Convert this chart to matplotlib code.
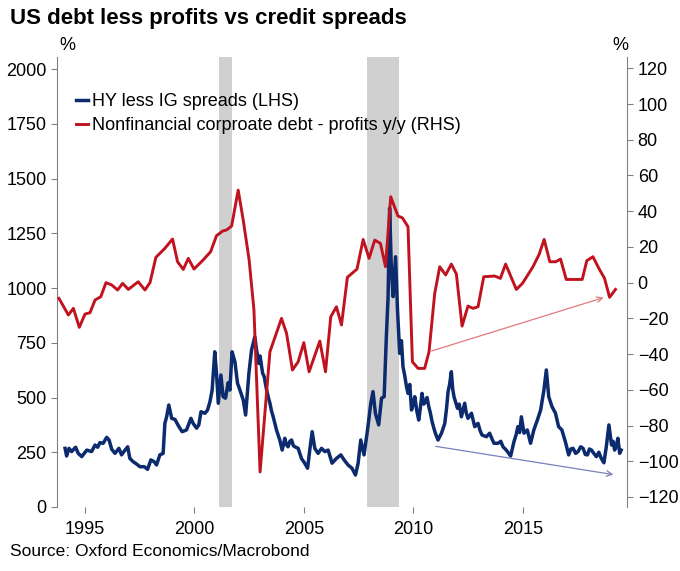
import matplotlib
matplotlib.use('Agg')
import matplotlib.pyplot as plt

plt.rcParams['font.family'] = ['Liberation Sans', 'DejaVu Sans']

# HY less IG spreads (LHS)
hy_years = [1994.09, 1994.16, 1994.27, 1994.39, 1994.57, 1994.69, 1994.85, 1995.08, 1995.30, 1995.46,
            1995.58, 1995.68, 1995.83, 1995.99, 1996.10, 1996.22, 1996.37, 1996.55, 1996.67, 1996.83,
            1996.95, 1997.05, 1997.20, 1997.36, 1997.51, 1997.71, 1997.86, 1998.01, 1998.16, 1998.27,
            1998.42, 1998.57, 1998.65, 1998.73, 1998.83, 1998.96, 1999.11, 1999.29, 1999.44, 1999.64,
            1999.84, 1999.94, 2000.10, 2000.20, 2000.30, 2000.48, 2000.60, 2000.71, 2000.81, 2000.93,
            2001.01, 2001.09, 2001.21, 2001.31, 2001.42, 2001.54, 2001.62, 2001.72, 2001.85, 2001.97,
            2002.08, 2002.23, 2002.34, 2002.49, 2002.61, 2002.76, 2002.84, 2002.94, 2003.00, 2003.07,
            2003.12, 2003.19, 2003.25, 2003.30, 2003.38, 2003.45, 2003.52, 2003.60, 2003.68, 2003.75,
            2003.82, 2003.90, 2004.01, 2004.13, 2004.20, 2004.28, 2004.36, 2004.44, 2004.52, 2004.59,
            2004.74, 2004.89, 2005.04, 2005.17, 2005.27, 2005.38, 2005.50, 2005.65, 2005.81, 2005.96,
            2006.11, 2006.29, 2006.49, 2006.69, 2006.84, 2007.02, 2007.20, 2007.36, 2007.48, 2007.60,
            2007.75, 2007.91, 2008.06, 2008.16, 2008.27, 2008.42, 2008.55, 2008.67, 2008.77, 2008.85,
            2008.92, 2009.00, 2009.08, 2009.19, 2009.28, 2009.38, 2009.46, 2009.53, 2009.61, 2009.69,
            2009.76, 2009.84, 2009.92, 2010.00, 2010.07, 2010.16, 2010.25, 2010.32, 2010.40, 2010.48,
            2010.56, 2010.63, 2010.71, 2010.78, 2010.86, 2010.94, 2011.01, 2011.13, 2011.29, 2011.44,
            2011.52, 2011.59, 2011.66, 2011.74, 2011.80, 2011.86, 2012.02, 2012.10, 2012.20, 2012.35,
            2012.42, 2012.50, 2012.66, 2012.74, 2012.81, 2012.96, 2013.05, 2013.14, 2013.34, 2013.49,
            2013.60, 2013.69, 2013.87, 2014.00, 2014.10, 2014.25, 2014.45, 2014.60, 2014.70, 2014.78,
            2014.86, 2014.94, 2015.06, 2015.21, 2015.36, 2015.51, 2015.67, 2015.82, 2015.97, 2016.08,
            2016.19, 2016.34, 2016.50, 2016.64, 2016.79, 2016.95, 2017.10, 2017.20, 2017.30, 2017.42,
            2017.53, 2017.65, 2017.76, 2017.86, 2017.96, 2018.05, 2018.14, 2018.25, 2018.37, 2018.48,
            2018.59, 2018.71, 2018.82, 2018.94, 2019.06, 2019.13, 2019.20, 2019.28, 2019.35, 2019.43,
            2019.50]
hy_spread = [268, 233, 268, 253, 273, 245, 230, 260, 253, 283,
             273, 294, 291, 318, 306, 264, 245, 268, 238, 260,
             275, 222, 207, 196, 184, 184, 172, 215, 207, 192,
             238, 245, 382, 412, 466, 405, 400, 367, 344, 352,
             405, 382, 360, 375, 435, 428, 443, 481, 534, 709,
             611, 474, 603, 504, 497, 568, 534, 709, 664, 565,
             534, 489, 420, 611, 717, 778, 717, 656, 690, 641,
             610, 595, 560, 534, 500, 474, 440, 412, 380, 352,
             330, 306, 260, 314, 285, 275, 300, 306, 280, 275,
             268, 222, 200, 177, 260, 344, 268, 245, 268, 253,
             260, 200, 222, 238, 215, 192, 177, 146, 200, 306,
             238, 352, 474, 527, 428, 375, 497, 504, 778, 961,
             1365, 1083, 961, 1143, 900, 702, 760, 641, 600, 550,
             519, 560, 443, 470, 504, 440, 397, 450, 519, 470,
             481, 500, 458, 430, 390, 360, 337, 306, 337, 382,
             450, 527, 560, 618, 540, 504, 451, 470, 412, 474,
             430, 405, 428, 395, 367, 382, 350, 329, 321, 337,
             310, 291, 291, 300, 275, 260, 233, 298, 330, 367,
             340, 412, 337, 352, 291, 352, 397, 443, 534, 626,
             504, 458, 428, 367, 352, 298, 238, 265, 268, 245,
             253, 275, 268, 240, 238, 265, 260, 245, 230, 250,
             222, 202, 275, 375, 283, 300, 260, 280, 314, 245,
             260]

# Nonfinancial corporate debt - profits y/y (RHS)
debt_years = [1993.81, 1994.24, 1994.47, 1994.74, 1995.00, 1995.23, 1995.46, 1995.72, 1995.96, 1996.22,
              1996.49, 1996.72, 1996.98, 1997.43, 1997.74, 1997.97, 1998.24, 1998.65, 1999.00, 1999.23,
              1999.49, 1999.72, 1999.98, 2000.40, 2000.74, 2001.01, 2001.29, 2001.47, 2001.70, 2002.00,
              2002.23, 2002.50, 2002.72, 2003.00, 2003.45, 2003.98, 2004.21, 2004.48, 2004.74, 2005.00,
              2005.24, 2005.73, 2005.99, 2006.23, 2006.49, 2006.72, 2006.99, 2007.43, 2007.71, 2007.98,
              2008.24, 2008.50, 2008.73, 2008.97, 2009.30, 2009.50, 2009.76, 2009.96, 2010.22, 2010.52,
              2010.72, 2010.98, 2011.21, 2011.48, 2011.74, 2011.97, 2012.23, 2012.50, 2012.73, 2012.96,
              2013.22, 2013.72, 2013.98, 2014.22, 2014.71, 2014.99, 2015.47, 2015.75, 2015.98, 2016.24,
              2016.51, 2016.73, 2016.99, 2017.72, 2017.93, 2018.21, 2018.48, 2018.74, 2018.97, 2019.24]
debt_profits = [-8.8, -18.1, -14.4, -25.0, -17.6, -16.8, -9.7, -7.9, 0.0, -1.3,
                -4.1, -0.4, -3.8, 0.5, -4.1, 0.0, 14.2, 19.2, 24.4, 11.7,
                7.4, 13.6, 7.6, 12.7, 17.3, 26.3, 28.9, 29.5, 31.7, 51.8,
                35.0, 12.7, -15.3, -106.0, -38.7, -20.0, -28.4, -48.9, -44.3, -33.6,
                -49.9, -32.7, -49.9, -19.1, -13.5, -23.7, 3.0, 7.6, 24.2, 13.6,
                23.8, 22.0, 8.9, 48.1, 37.3, 36.3, 31.3, -44.3, -48.0, -48.0,
                -38.7, -6.0, 8.9, 4.3, 10.4, 4.8, -24.3, -13.1, -14.4, -13.5,
                3.3, 3.7, 2.4, 10.4, -3.8, -0.4, 8.9, 15.8, 24.2, 11.7,
                11.7, 13.2, 1.8, 1.8, 12.3, 14.5, 8.0, 2.4, -8.2, -3.8]

recessions = [(2001.12, 2001.72), (2007.88, 2009.34)]

# trend arrows: (start year, start value), (end year, end value)
red_arrow = [(2010.72, -38.7), (2018.82, -7.9)]
blue_arrow = [(2010.9, 279), (2019.27, 146)]

navy = '#0c2a6e'
red = '#c0121f'

fig = plt.figure(figsize=(6.8, 5.71), dpi=100)
ax = fig.add_axes([0.0838, 0.1121, 0.8387, 0.7886])
ax2 = ax.twinx()

for start, end in recessions:
    ax.axvspan(start, end, color='#d0d0d0', lw=0, zorder=0)

l1, = ax.plot(hy_years, hy_spread, color=navy, lw=2.5, zorder=3)
l2, = ax2.plot(debt_years, debt_profits, color=red, lw=2.1, zorder=3)

ax.annotate('', xy=blue_arrow[1], xytext=blue_arrow[0],
            arrowprops=dict(arrowstyle='->', color='#7a80b8', lw=0.9))
ax2.annotate('', xy=red_arrow[1], xytext=red_arrow[0],
             arrowprops=dict(arrowstyle='->', color='#e07a80', lw=0.9))

ax.set_xlim(1993.72, 2019.78)
ax.set_ylim(0, 2057)
ax2.set_ylim(-125.6, 126.5)
ax.set_xticks([1995, 2000, 2005, 2010, 2015])
ax.set_yticks(range(0, 2001, 250))
ax2.set_yticks(range(-120, 121, 20))

for a in (ax, ax2):
    for s in ('top', 'bottom'):
        a.spines[s].set_visible(False)
    a.tick_params(labelsize=13, color='#808080', length=4, width=0.8)
ax.spines['right'].set_visible(False)
ax2.spines['left'].set_visible(False)
ax.spines['left'].set_color('#808080')
ax2.spines['right'].set_color('#808080')
ax.tick_params(axis='x', pad=6)

ax2.legend([l1, l2], ['HY less IG spreads (LHS)', 'Nonfinancial corproate debt - profits y/y (RHS)'],
           loc='upper left', bbox_to_anchor=(0.02, 0.935), frameon=False, fontsize=13,
           handlelength=0.7, handletextpad=0.2, labelspacing=0.4, borderaxespad=0)

fig.text(0.015, 0.968, 'US debt less profits vs credit spreads', fontsize=16,
         fontweight='bold', va='center', ha='left')
fig.text(67 / 680, 1 - 45 / 571, '%', fontsize=13, ha='center', va='center')
fig.text(620 / 680, 1 - 45 / 571, '%', fontsize=13, ha='center', va='center')
fig.text(0.015, 1 - 551 / 571, 'Source: Oxford Economics/Macrobond', fontsize=12.5,
         ha='left', va='center')

fig.savefig('out.png', dpi=100)
